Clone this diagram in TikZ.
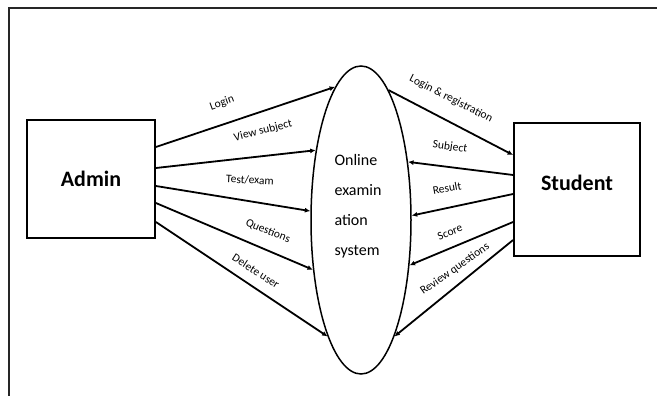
\documentclass[tikz,border=0pt]{standalone}
\usepackage{fontspec}
\setmainfont{Carlito}
\usetikzlibrary{shapes.geometric,arrows.meta}

\tikzset{
  entity/.style={draw,line width=1.8pt,inner sep=0pt,font=\fontsize{22}{25}\selectfont\bfseries},
  flow/.style={line width=1.8pt,-{Latex[length=5.5pt,width=5pt]}},
  flowlabel/.style={inner sep=0pt,font=\fontsize{11.5}{13}\selectfont},
}

\begin{document}
\begin{tikzpicture}[x=1pt,y=-1pt]
  \useasboundingbox (0,0) rectangle (657,396);

  % frame
  \draw[line width=1.6pt,black!85] (9,396) -- (9,8) -- (657,8);

  % entities and process
  \node[entity,minimum width=128pt,minimum height=118pt] (admin) at (91,179) {Admin};
  \node[entity,minimum width=126pt,minimum height=133pt] (student) at (577,189.5) {};
  \node[font=\fontsize{22}{25}\selectfont\bfseries] (studenttext) at (577,183) {Student};
  \node[ellipse,draw,line width=1.5pt,minimum width=100pt,minimum height=308pt,inner sep=0pt]
    (sys) at (361,220) {};
  \node[align=left,font=\fontsize{16}{30}\selectfont] (systext) at (358,206)
    {Online\\examin\\ation\\system};

  % start points on the entities
  \coordinate (a1) at ([yshift=32pt]admin.east);
  \coordinate (a2) at ([yshift=11pt]admin.east);
  \coordinate (a3) at ([yshift=-7pt]admin.east);
  \coordinate (a4) at ([yshift=-24pt]admin.east);
  \coordinate (a5) at ([yshift=-43pt]admin.east);
  \coordinate (s1) at ([yshift=34.5pt]student.west);
  \coordinate (s2) at ([yshift=14.5pt]student.west);
  \coordinate (s3) at ([yshift=-4.5pt]student.west);
  \coordinate (s4) at ([yshift=-32.5pt]student.west);
  \coordinate (s5) at ([yshift=-50.5pt]student.west);

  % admin flows
  \draw[flow] (a1) -- (sys.101.6);
  \draw[flow] (a2) -- (sys.123.7);
  \draw[flow] (a3) -- (sys.170.4);
  \draw[flow] (a4) -- (sys.226.1);
  \draw[flow] (a5) -- (sys.254.9);

  % student flows
  \draw[flow] (sys.78.9) -- (s1);
  \draw[flow] (s2) -- (sys.51.7);
  \draw[flow] (s3) -- (sys.5.5);
  \draw[flow] (s4) -- (sys.317.3);
  \draw[flow] (s5) -- (sys.286.1);

  % flow labels
  \node[flowlabel,rotate=20]  (llogin)   at (222,103) {Login};
  \node[flowlabel,rotate=14]  (lview)    at (263,131) {View subject};
  \node[flowlabel,rotate=-3]  (ltest)    at (250,180) {Test/exam};
  \node[flowlabel,rotate=-22] (lquest)   at (268,231) {Questions};
  \node[flowlabel,rotate=-33] (ldelete)  at (256,271) {Delete user};
  \node[flowlabel,rotate=-27] (lreg)     at (451,99)  {Login \& registration};
  \node[flowlabel,rotate=-8]  (lsubject) at (450,147) {Subject};
  \node[flowlabel,rotate=10]  (lresult)  at (447,188) {Result};
  \node[flowlabel,rotate=22]  (lscore)   at (450,232) {Score};
  \node[flowlabel,rotate=35]  (lreview)  at (455,269) {Review questions};
\end{tikzpicture}
\end{document}
